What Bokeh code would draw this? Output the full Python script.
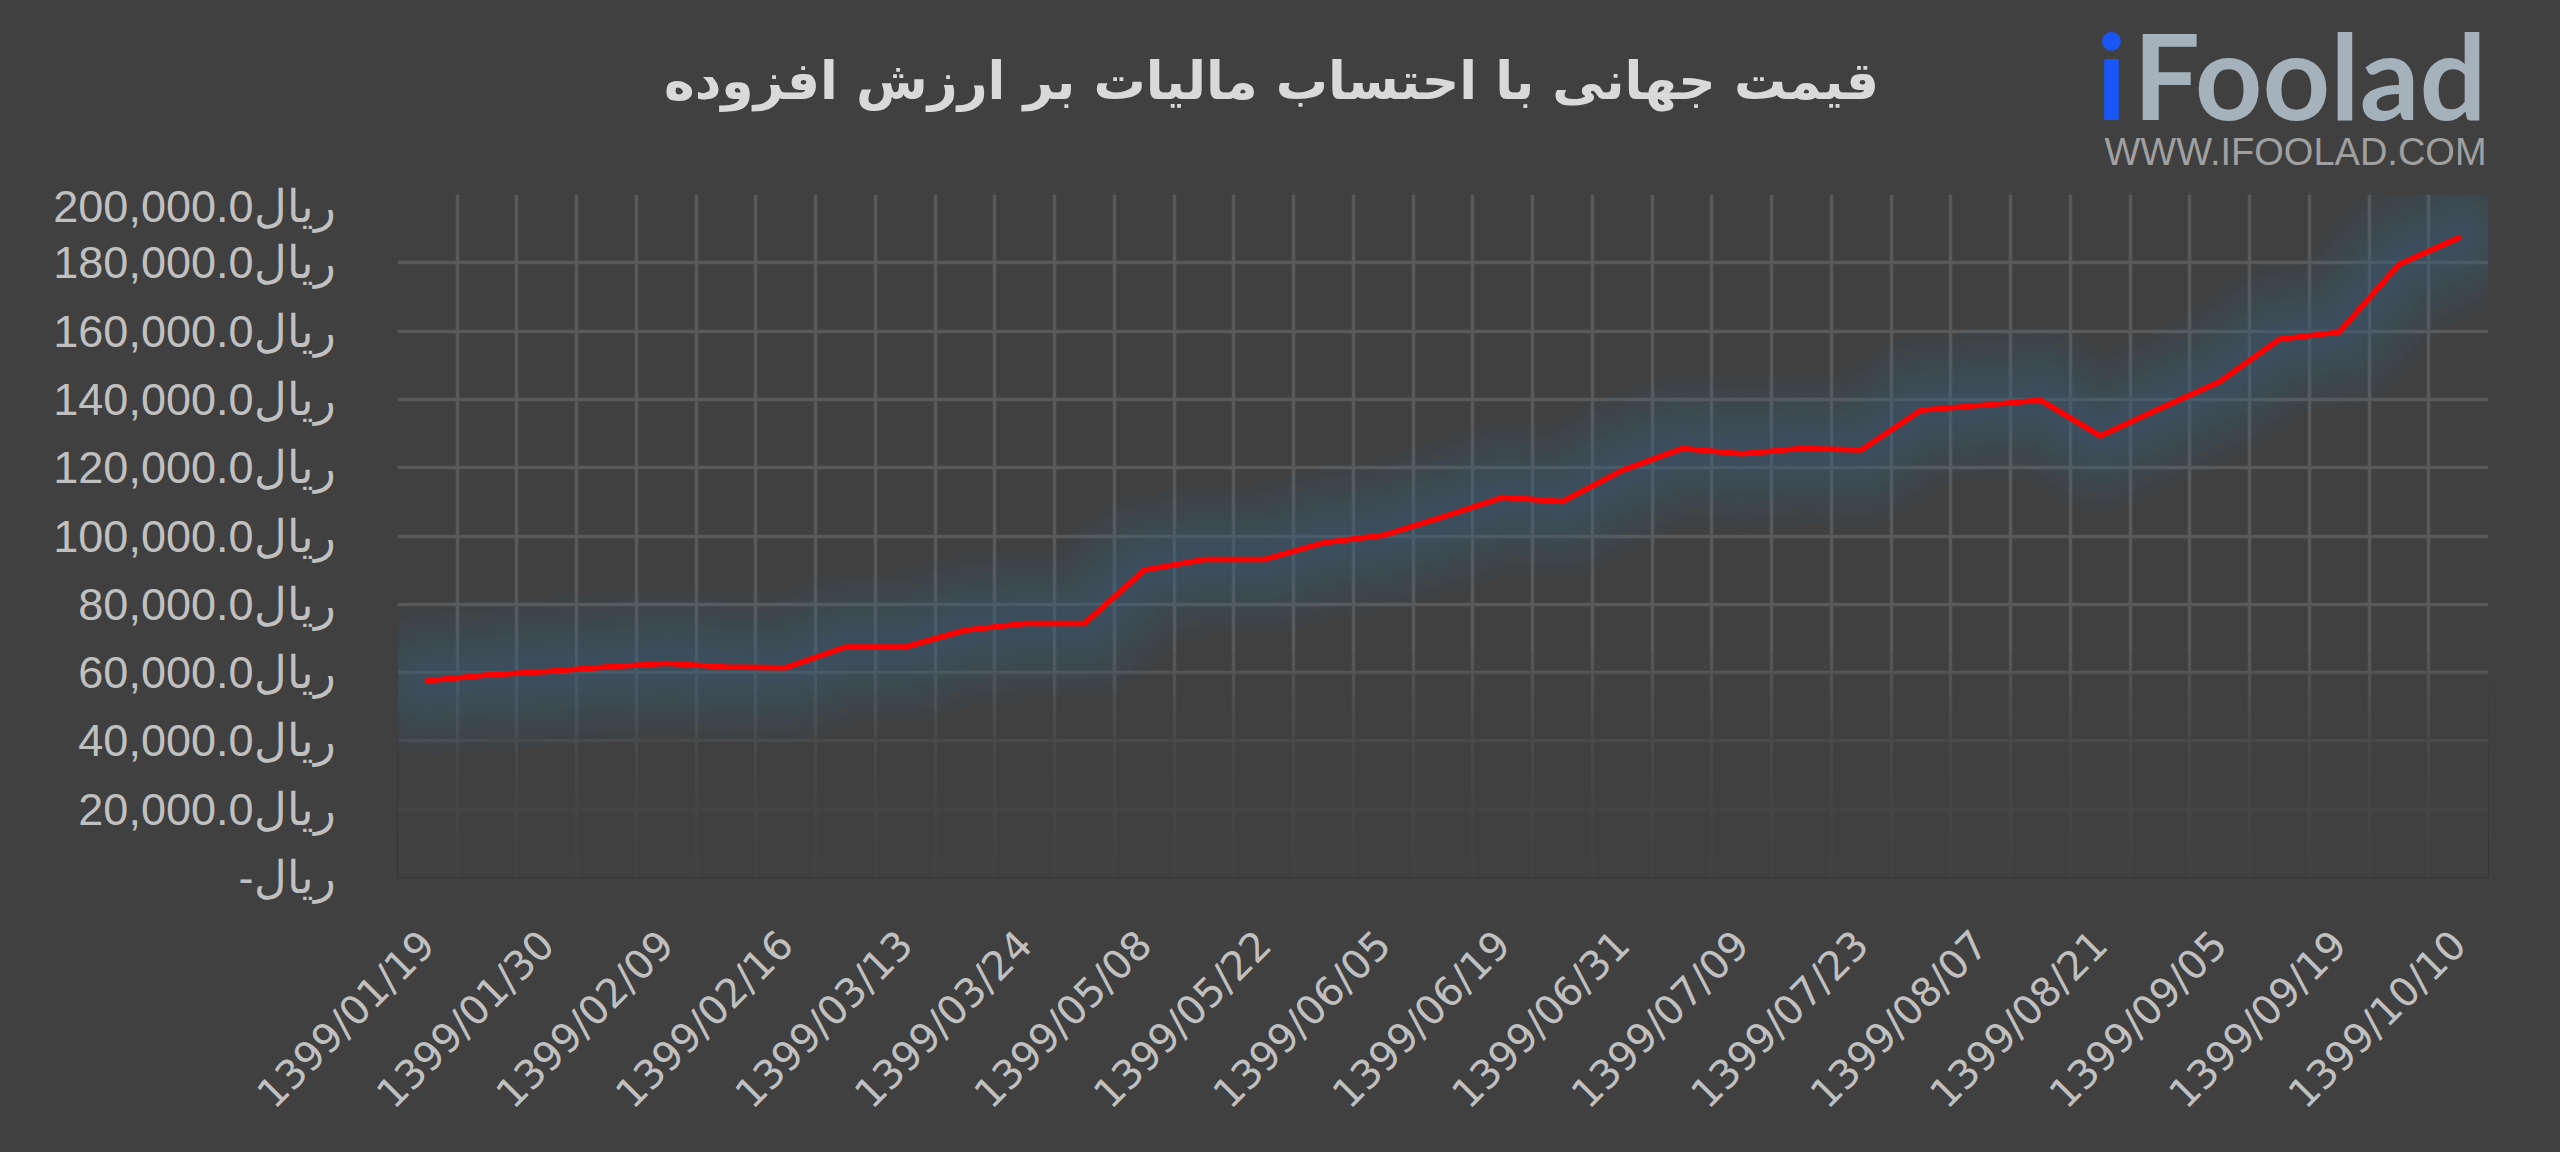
import math
from bokeh.plotting import figure
from bokeh.layouts import column
from bokeh.models import FixedTicker, Range1d, BoxAnnotation
from bokeh.core.properties import value
from bokeh.embed import file_html
from bokeh.resources import INLINE

# ---- data ----
prices = [57600, 59300, 60300, 61650, 62700, 61650, 61450, 67500, 67500, 72400,
          74400, 74400, 90000, 93100, 93100, 98000, 100200, 105600, 111300, 110100,
          119200, 125600, 124100, 125600, 125200, 136800, 138250, 139800, 129300, 137300,
          145200, 157600, 159700, 179500, 187300]
x_tick_labels = ["1399/01/19", "1399/01/30", "1399/02/09", "1399/02/16", "1399/03/13",
                 "1399/03/24", "1399/05/08", "1399/05/22", "1399/06/05", "1399/06/19",
                 "1399/06/31", "1399/07/09", "1399/07/23", "1399/08/07", "1399/08/21",
                 "1399/09/05", "1399/09/19", "1399/10/10"]
label_step = 2
y_ticks = [0, 20000, 40000, 60000, 80000, 100000, 120000, 140000, 160000, 180000, 200000]
y_tick_labels = ["-ریال"] + [f"{v:,.1f}ریال" for v in y_ticks[1:]]
title_text = "قیمت جهانی با احتساب مالیات بر ارزش افزوده"

BG = "#404040"
GRID = "#595959"
LABEL = "#c0c0c0"
W = 2544
TOP_H = 180
MAIN_H = 956
FRAME_L = 397
FRAME_R = 2488

# ---- header (title + logo); its frame is aligned with the chart frame ----
head = figure(width=W, height=TOP_H, x_range=Range1d(FRAME_L, FRAME_R),
              y_range=Range1d(TOP_H, 0),
              output_backend="svg", toolbar_location=None, x_axis_type=None, y_axis_type=None,
              min_border_left=FRAME_L, min_border_right=W - FRAME_R, min_border_top=0,
              min_border_bottom=0, background_fill_color=BG, border_fill_color=BG,
              outline_line_color=None)
head.xgrid.visible = False
head.ygrid.visible = False
head.text(x=[1271], y=[80], text=[title_text], text_align="center", text_baseline="middle",
          text_font=value("DejaVu Sans"), text_font_style="bold", text_font_size="52px",
          text_color="#d9d9d9")
head.text(x=[2126], y=[74], text=["i"], text_align="right", text_baseline="middle",
          text_font=value("Lato"), text_font_style="bold", text_font_size="118px",
          text_color="#1a55f5")
head.text(x=[2486], y=[74], text=["Foolad"], text_align="right", text_baseline="middle",
          text_font=value("Lato"), text_font_style="bold", text_font_size="118px",
          text_color="#a5b2bc")
head.text(x=[2295], y=[151], text=["WWW.IFOOLAD.COM"], text_align="center",
          text_baseline="middle", text_font=value("Liberation Sans"),
          text_font_size="38px", text_color="#a0a0a0")

# ---- main chart ----
n = len(prices)
xs = list(range(n))

p = figure(width=W, height=MAIN_H,
           x_range=Range1d(-0.5, n - 0.5), y_range=Range1d(0, 200000),
           output_backend="svg", toolbar_location=None,
           min_border_left=FRAME_L, min_border_right=W - FRAME_R, min_border_top=194 - TOP_H,
           min_border_bottom=MAIN_H - (878 - TOP_H),
           background_fill_color=BG, border_fill_color=BG, outline_line_color=None)

p.yaxis.ticker = FixedTicker(ticks=y_ticks)
p.yaxis.major_label_overrides = {t: l for t, l in zip(y_ticks, y_tick_labels)}
p.yaxis.major_label_text_font = "Liberation Sans"
p.yaxis.major_label_text_font_size = "45px"
p.yaxis.major_label_text_color = LABEL
p.yaxis.major_label_standoff = 62
p.yaxis.axis_line_color = None
p.yaxis.major_tick_line_color = None
p.yaxis.minor_tick_line_color = None
p.yaxis.major_tick_out = 0

x_ticks = xs[::label_step]
p.xaxis.ticker = FixedTicker(ticks=x_ticks)
p.xaxis.major_label_overrides = {t: l for t, l in zip(x_ticks, x_tick_labels)}
p.xaxis.major_label_orientation = math.pi / 4
p.xaxis.major_label_text_font = "DejaVu Sans"
p.xaxis.major_label_text_font_size = "40px"
p.xaxis.major_label_text_color = LABEL
p.xaxis.major_label_standoff = 60
p.xaxis.axis_line_color = None
p.xaxis.major_tick_line_color = None
p.xaxis.minor_tick_line_color = None
p.xaxis.major_tick_out = 0

p.xgrid.ticker = FixedTicker(ticks=[i - 0.5 for i in range(n + 1)])
p.xgrid.grid_line_color = GRID
p.xgrid.grid_line_width = 3.5
p.ygrid.grid_line_color = GRID
p.ygrid.grid_line_width = 3.5

# fade of the grid toward the bottom
for k in range(1, 12):
    p.add_layout(BoxAnnotation(bottom=0, top=6000 * k, fill_color=BG, fill_alpha=0.17,
                               line_color=None, level="underlay"))

# soft glow behind the line
GLOW = "#39648a"
for w in [150, 130, 112, 96, 80, 64, 48, 32]:
    p.line(xs, prices, line_color=GLOW, line_width=w, line_alpha=0.065,
           line_join="round", line_cap="round")

p.line(xs, prices, line_color="#ff0000", line_width=5.5, line_join="round", line_cap="round")

layout = column(head, p, spacing=0)
html = file_html(layout, INLINE)
html = html.replace("</head>", "<style>html,body{background-color:#404040;}</style></head>", 1)
open("out.html", "w").write(html)
